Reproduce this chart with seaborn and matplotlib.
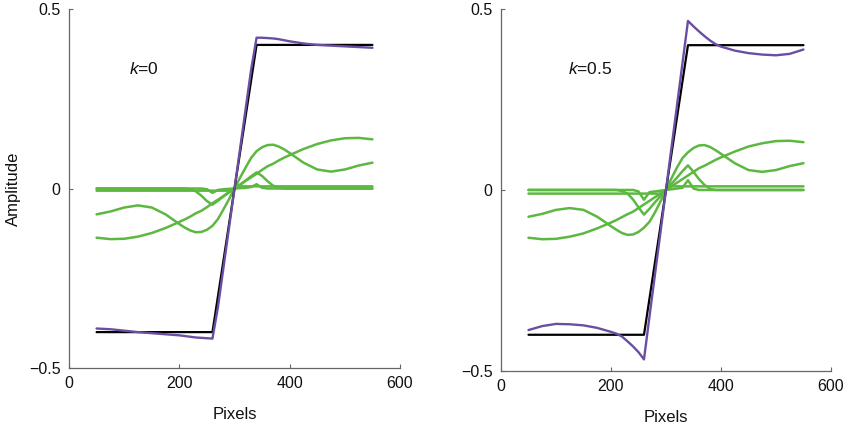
import matplotlib
matplotlib.use("Agg")
import matplotlib.pyplot as plt
import seaborn as sns
import pandas as pd

# sample positions (pixels) shared by all curves
x_grid = [50, 75, 100, 125, 150, 175, 200, 210, 220, 230, 240, 250, 260, 270, 280, 290, 300,
          310, 320, 330, 340, 350, 360, 370, 380, 390, 400, 425, 450, 475, 500, 525, 550]

# ideal step edge (same in both panels)
step_x = [50, 260, 340, 550]
step_y = [-0.4, -0.4, 0.4, 0.4]

# ---- k = 0 ----
recon_k0 = [-0.390, -0.392, -0.396, -0.400, -0.403, -0.406, -0.409, -0.411, -0.413, -0.415, -0.416, -0.417, -0.418,
            -0.330, -0.220, -0.110, 0.0, 0.110, 0.220, 0.330, 0.420,
            0.420, 0.419, 0.418, 0.416, 0.413, 0.410, 0.404, 0.400, 0.398, 0.396, 0.394, 0.392]
comp1_k0 = [-0.137, -0.141, -0.140, -0.134, -0.124, -0.110, -0.093, -0.086, -0.078, -0.069, -0.062, -0.052, -0.041,
            -0.031, -0.021, -0.010, 0.0, 0.010, 0.021, 0.031, 0.041,
            0.052, 0.062, 0.069, 0.078, 0.086, 0.093, 0.110, 0.124, 0.134, 0.140, 0.141, 0.137]
comp2_k0 = [-0.072, -0.064, -0.053, -0.047, -0.053, -0.072, -0.099, -0.109, -0.117, -0.122, -0.121, -0.115, -0.104,
            -0.085, -0.058, -0.030, 0.0, 0.030, 0.058, 0.085, 0.104,
            0.115, 0.121, 0.122, 0.117, 0.109, 0.099, 0.072, 0.053, 0.047, 0.053, 0.064, 0.072]
comp3_k0 = [0, 0, 0, 0, 0, 0, 0, 0, -0.002, -0.008, -0.020, -0.035, -0.045,
            -0.034, -0.022, -0.011, 0.0, 0.011, 0.022, 0.034, 0.045,
            0.035, 0.020, 0.008, 0.002, 0, 0, 0, 0, 0, 0, 0, 0]
comp4_k0 = [0, 0, 0, 0, 0, 0, 0, 0, 0, 0, 0, -0.002, -0.012,
            -0.004, -0.002, -0.001, 0.0, 0.001, 0.002, 0.004, 0.012,
            0.002, 0, 0, 0, 0, 0, 0, 0, 0, 0, 0, 0]
comp5_k0 = [-0.006] * 16 + [0.0] + [0.006] * 16

# ---- k = 0.5 ----
recon_k05 = [-0.387, -0.376, -0.370, -0.371, -0.374, -0.381, -0.392, -0.397, -0.405, -0.418, -0.432, -0.448, -0.468,
             -0.350, -0.233, -0.117, 0.0, 0.117, 0.233, 0.350, 0.467,
             0.452, 0.438, 0.425, 0.413, 0.403, 0.396, 0.385, 0.378, 0.374, 0.372, 0.376, 0.388]
comp1_k05 = [-0.132, -0.136, -0.135, -0.129, -0.120, -0.106, -0.090, -0.083, -0.075, -0.067, -0.060, -0.050, -0.040,
             -0.030, -0.020, -0.010, 0.0, 0.010, 0.020, 0.030, 0.040,
             0.050, 0.060, 0.067, 0.075, 0.083, 0.090, 0.106, 0.120, 0.129, 0.135, 0.136, 0.132]
comp2_k05 = [-0.074, -0.066, -0.055, -0.050, -0.055, -0.074, -0.100, -0.110, -0.119, -0.124, -0.123, -0.116, -0.104,
             -0.088, -0.062, -0.032, 0.0, 0.032, 0.062, 0.088, 0.104,
             0.116, 0.123, 0.124, 0.119, 0.110, 0.100, 0.074, 0.055, 0.050, 0.055, 0.066, 0.074]
comp3_k05 = [0, 0, 0, 0, 0, 0, 0, 0, -0.003, -0.010, -0.026, -0.048, -0.068,
             -0.052, -0.034, -0.017, 0.0, 0.017, 0.034, 0.052, 0.068,
             0.050, 0.030, 0.014, 0.003, 0, 0, 0, 0, 0, 0, 0, 0]
comp4_k05 = [0, 0, 0, 0, 0, 0, 0, 0, 0, 0, 0, -0.004, -0.027,
             -0.006, -0.004, -0.002, 0.0, 0.002, 0.004, 0.006, 0.027,
             0.004, 0, 0, 0, 0, 0, 0, 0, 0, 0, 0, 0]
comp5_k05 = [-0.010] * 16 + [0.0] + [0.010] * 16

panel_labels = ["0", "0.5"]
label_pos = [(109, 0.334), (122, 0.334)]
x_ticks = [0, 200, 400, 600]
y_ticks = [-0.5, 0, 0.5]
y_tick_labels = ["\u22120.5", "0", "0.5"]

green = "#5cb840"
purple = "#6b4ea2"

sns.set_theme(style="white")
plt.rcParams["font.family"] = ["Liberation Sans", "DejaVu Sans"]
plt.rcParams["mathtext.fontset"] = "custom"
plt.rcParams["mathtext.it"] = "Liberation Sans:italic"
plt.rcParams["mathtext.rm"] = "Liberation Sans"

fig, axes = plt.subplots(1, 2, figsize=(8.5, 4.23), dpi=100)
axes[0].set_position([0.0812, 0.130, 0.3894, 0.8487])
axes[1].set_position([0.5894, 0.123, 0.3882, 0.8558])

panels = [
    (recon_k0, [comp1_k0, comp2_k0, comp3_k0, comp4_k0, comp5_k0]),
    (recon_k05, [comp1_k05, comp2_k05, comp3_k05, comp4_k05, comp5_k05]),
]

for i, (ax, (recon, comps)) in enumerate(zip(axes, panels)):
    for c in comps:
        sns.lineplot(x=x_grid, y=c, ax=ax, color=green, linewidth=1.8)
    sns.lineplot(x=step_x, y=step_y, ax=ax, color="black", linewidth=1.6)
    sns.lineplot(x=x_grid, y=recon, ax=ax, color=purple, linewidth=1.7)

    ax.set_xlim(0, 600)
    ax.set_ylim(-0.5, 0.5)
    ax.set_xticks(x_ticks)
    ax.set_xticklabels([str(t) for t in x_ticks])
    ax.set_yticks(y_ticks)
    ax.set_yticklabels(y_tick_labels)
    ax.tick_params(direction="in", length=3, width=0.8, color="#666666",
                   labelsize=11.5, labelcolor="#111111", pad=6, bottom=True, left=True)
    for side in ["top", "right"]:
        ax.spines[side].set_visible(False)
    for side in ["left", "bottom"]:
        ax.spines[side].set_color("#666666")
        ax.spines[side].set_linewidth(0.9)
    ax.set_xlabel("Pixels", fontsize=12, labelpad=11, color="#111111")
    tx, ty = label_pos[i]
    ax.text(tx, ty, "$k$=" + panel_labels[i], fontsize=12.5, va="center", ha="left", color="#111111")

axes[0].set_ylabel("Amplitude", fontsize=12, labelpad=6, color="#111111")
axes[1].set_ylabel("")

fig.savefig("out.png", dpi=100)
